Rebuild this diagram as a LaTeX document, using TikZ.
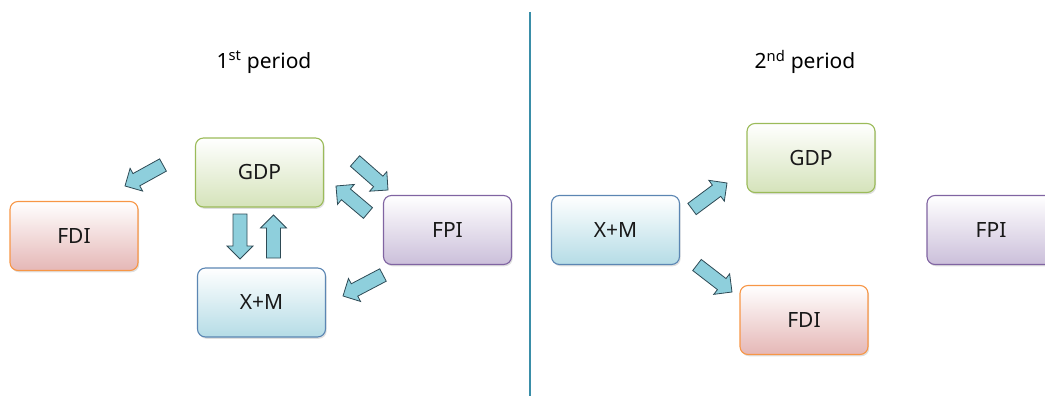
\documentclass[tikz,border=0pt]{standalone}
\usepackage{fontspec}
\setmainfont{Noto Sans}
\usetikzlibrary{calc,shadows}
\definecolor{gdpB}{HTML}{9BBB59}\definecolor{gdpF}{HTML}{D5E3BA}
\definecolor{fdiB}{HTML}{F79646}\definecolor{fdiF}{HTML}{E5B7B6}
\definecolor{xmB}{HTML}{5B86B3}\definecolor{xmF}{HTML}{B5DCE6}
\definecolor{fpiB}{HTML}{8064A2}\definecolor{fpiF}{HTML}{CBBFDA}
\definecolor{arrF}{HTML}{8ECFDC}\definecolor{arrB}{HTML}{2E4A55}
\definecolor{divc}{HTML}{3A8EA8}
\tikzset{
  box/.style={rounded corners=8pt, minimum width=128pt, minimum height=69pt, line width=1.1pt,
    font=\fontsize{21}{23}\selectfont, text=black!90,
    drop shadow={opacity=0.25, shadow xshift=1.2pt, shadow yshift=-1.8pt}},
  gdp/.style={box, draw=gdpB, top color=white, bottom color=gdpF},
  fdi/.style={box, draw=fdiB, top color=white, bottom color=fdiF},
  xm/.style={box, draw=xmB, top color=white, bottom color=xmF},
  fpi/.style={box, draw=fpiB, top color=white, bottom color=fpiF},
  barrow/.style={fill=arrF, draw=arrB, line width=0.8pt, line join=miter},
  ttl/.style={font=\fontsize{21}{23}\selectfont, text=black}
}
\newcommand\blockarrow[2]{%
  \path ($(#2)!13pt!(#1)$) coordinate (hb);
  \draw[barrow] ($(#1)!7pt!90:(#2)$) -- ($(hb)!7pt!90:(#2)$) -- ($(hb)!13pt!90:(#2)$) -- (#2)
    -- ($(hb)!13pt!-90:(#2)$) -- ($(hb)!7pt!-90:(#2)$) -- ($(#1)!7pt!-90:(#2)$) -- cycle;}
\begin{document}
\begin{tikzpicture}[x=1pt,y=-1pt]
\useasboundingbox (0,0) rectangle (1045,396);
\clip (0,0) rectangle (1045,396);
% titles
\node[ttl] (t1) at (264,62) {1\textsuperscript{st} period};
\node[ttl] (t2) at (805,62) {2\textsuperscript{nd} period};
% divider
\coordinate (d1) at (530,12);
\coordinate (d2) at (530,396);
\draw[divc, line width=2pt] (d1) -- (d2);
% 1st period boxes
\node[gdp] (gdp1) at (259.5,172.5) {GDP};
\node[fdi] (fdi1) at (74,236) {FDI};
\node[xm]  (xm1)  at (261.5,302.5) {X+M};
\node[fpi] (fpi1) at (447.5,230) {FPI};
% 2nd period boxes
\node[gdp] (gdp2) at (811,158) {GDP};
\node[fdi] (fdi2) at (804,320) {FDI};
\node[xm]  (xm2)  at (615.5,230) {X+M};
\node[fpi] (fpi2) at (991,230) {FPI};
% arrow coordinates, 1st period
\coordinate (a1s) at (163,165); \coordinate (a1e) at (125,186);
\coordinate (a2s) at (240,214); \coordinate (a2e) at (240,259);
\coordinate (a3s) at (273.5,258); \coordinate (a3e) at (273.5,215);
\coordinate (a4s) at (355,161); \coordinate (a4e) at (388,190);
\coordinate (a5s) at (368,213); \coordinate (a5e) at (336,186);
\coordinate (a6s) at (383,275); \coordinate (a6e) at (343,296);
% arrow coordinates, 2nd period
\coordinate (b1s) at (692,209); \coordinate (b1e) at (727,183);
\coordinate (b2s) at (697,265); \coordinate (b2e) at (732,292);
\blockarrow{a1s}{a1e}
\blockarrow{a2s}{a2e}
\blockarrow{a3s}{a3e}
\blockarrow{a4s}{a4e}
\blockarrow{a5s}{a5e}
\blockarrow{a6s}{a6e}
\blockarrow{b1s}{b1e}
\blockarrow{b2s}{b2e}
\end{tikzpicture}
\end{document}
